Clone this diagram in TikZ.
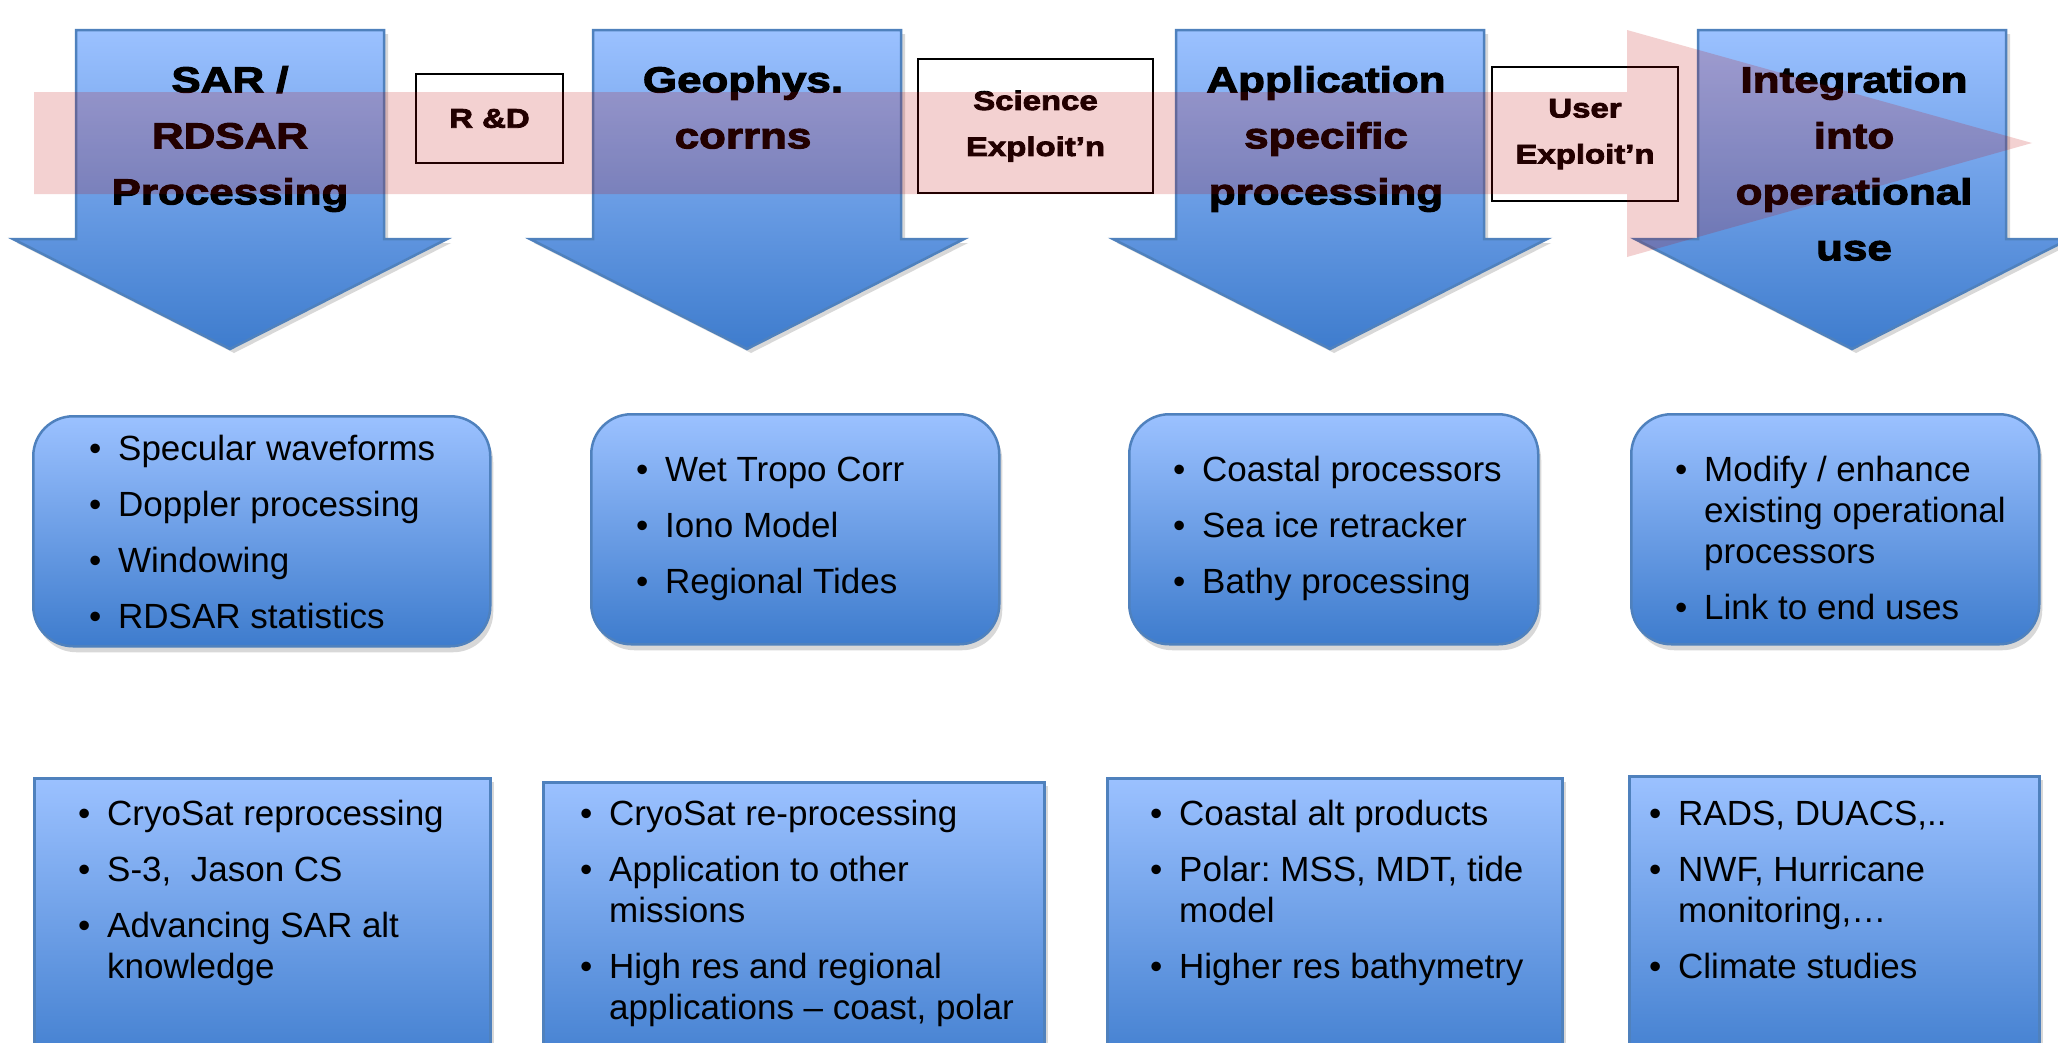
\documentclass[tikz,border=0pt]{standalone}
\usepackage{fontspec}
\setmainfont{Liberation Sans}
\newfontfamily\headfont{Liberation Sans Bold}[FakeStretch=1.22,FakeBold=3]
\usetikzlibrary{shadows}
\frenchspacing
\definecolor{bluetop}{RGB}{155,193,255}
\definecolor{bluebot}{RGB}{62,124,205}
\definecolor{blueedge}{RGB}{79,129,189}
\definecolor{bandred}{RGB}{192,0,0}
\newcommand{\blist}[1]{\begin{tabular}{@{}p{29pt}@{}l@{}}#1\end{tabular}}
\newcommand{\bi}{\textbullet &}
\tikzset{
  bigarrow/.style={draw=blueedge, line width=2.5pt, line join=miter, top color=bluetop, bottom color=bluebot,
    drop shadow={opacity=0.3, shadow xshift=4pt, shadow yshift=-4pt}},
  headtxt/.style={font=\headfont\fontsize{36}{56}\selectfont, align=center, anchor=north, inner sep=0pt},
  smallbox/.style={draw=black, line width=1.5pt, fill=white, align=center, inner sep=0pt,
    font=\headfont\fontsize{27}{46}\selectfont},
  midbox/.style={draw=blueedge, line width=2.5pt, rounded corners=40pt, top color=bluetop, bottom color=bluebot,
    anchor=north west, inner sep=0pt, drop shadow={opacity=0.3, shadow xshift=3pt, shadow yshift=-6pt}},
  botbox/.style={draw=blueedge, line width=2.5pt, top color=bluetop, bottom color=bluebot,
    anchor=north west, inner sep=0pt, drop shadow={opacity=0.3, shadow xshift=4pt, shadow yshift=-4pt}},
  listtxt/.style={anchor=north west, inner sep=0pt, font=\fontsize{35}{41}\selectfont},
  band/.style={fill=bandred, fill opacity=0.18, draw=none}
}
\begin{document}
\begin{tikzpicture}[x=1pt,y=-1pt]
\useasboundingbox (0,0) rectangle (2058,1042);
\fill[white] (0,0) rectangle (2058,1042);
\clip (0,0) rectangle (2058,1042);
% big down arrows
\foreach \c in {230,747,1330,1852}{
  \path[bigarrow] (\c-154,30) -- (\c+154,30) -- (\c+154,239) -- (\c+217,239) -- (\c,349)
     -- (\c-217,239) -- (\c-154,239) -- cycle;
}
% headers
\node[headtxt] (h1) at (230,66) {SAR /\\RDSAR\\Processing};
\node[headtxt] (h2) at (743,66) {Geophys.\\corrns};
\node[headtxt] (h3) at (1326,66) {Application\\specific\\processing};
\node[headtxt] (h4) at (1854,66) {Integration\\into\\operational\\use};
% small boxes
\node[smallbox, minimum width=147pt, minimum height=89pt] (rd) at (489.5,118.5) {R \&D};
\node[smallbox, minimum width=235pt, minimum height=134pt] (sci) at (1035.5,126) {Science\\Exploit’n};
\node[smallbox, minimum width=186pt, minimum height=134pt] (usr) at (1585,134) {User\\Exploit’n};
% translucent red band arrow
\path[band] (34,92) -- (1627,92) -- (1627,30) -- (2032,143) -- (1627,257) -- (1627,194) -- (34,194) -- cycle;
% middle rounded boxes
\node[midbox, minimum width=457pt, minimum height=230pt] (m1) at (32,415) {};
\node[midbox, minimum width=408pt, minimum height=230pt] (m2) at (590,413) {};
\node[midbox, minimum width=409pt, minimum height=230pt] (m3) at (1128,413) {};
\node[midbox, minimum width=408pt, minimum height=230pt] (m4) at (1630,413) {};
% bottom boxes
\node[botbox, minimum width=456pt, minimum height=300pt] (b1) at (33,777) {};
\node[botbox, minimum width=501pt, minimum height=300pt] (b2) at (542,781) {};
\node[botbox, minimum width=455pt, minimum height=300pt] (b3) at (1106,777) {};
\node[botbox, minimum width=410pt, minimum height=300pt] (b4) at (1628,775) {};
% middle texts
\node[listtxt] (t1) at (89,431.3) {\blist{\bi Specular waveforms\\[15pt] \bi Doppler processing\\[15pt] \bi Windowing\\[15pt] \bi RDSAR statistics}};
\node[listtxt] (t2) at (636,452.3) {\blist{\bi Wet Tropo Corr\\[15pt] \bi Iono Model\\[15pt] \bi Regional Tides}};
\node[listtxt] (t3) at (1173,452.3) {\blist{\bi Coastal processors\\[15pt] \bi Sea ice retracker\\[15pt] \bi Bathy processing}};
\node[listtxt] (t4) at (1675,452.3) {\blist{\bi Modify / enhance\\ & existing operational\\ & processors\\[15pt] \bi Link to end uses}};
% bottom texts
\node[listtxt] (u1) at (78,796.3) {\blist{\bi CryoSat reprocessing\\[15pt] \bi S-3,\ \ Jason CS\\[15pt] \bi Advancing SAR alt\\ & knowledge}};
\node[listtxt] (u2) at (580,796.3) {\blist{\bi CryoSat re-processing\\[15pt] \bi Application to other\\ & missions\\[15pt] \bi High res and regional\\ & applications – coast, polar}};
\node[listtxt] (u3) at (1150,796.3) {\blist{\bi Coastal alt products\\[15pt] \bi Polar: MSS, MDT, tide\\ & model\\[15pt] \bi Higher res bathymetry}};
\node[listtxt] (u4) at (1649,796.3) {\blist{\bi RADS, DUACS,..\\[15pt] \bi NWF, Hurricane\\ & monitoring,…\\[15pt] \bi Climate studies}};
\end{tikzpicture}
\end{document}
